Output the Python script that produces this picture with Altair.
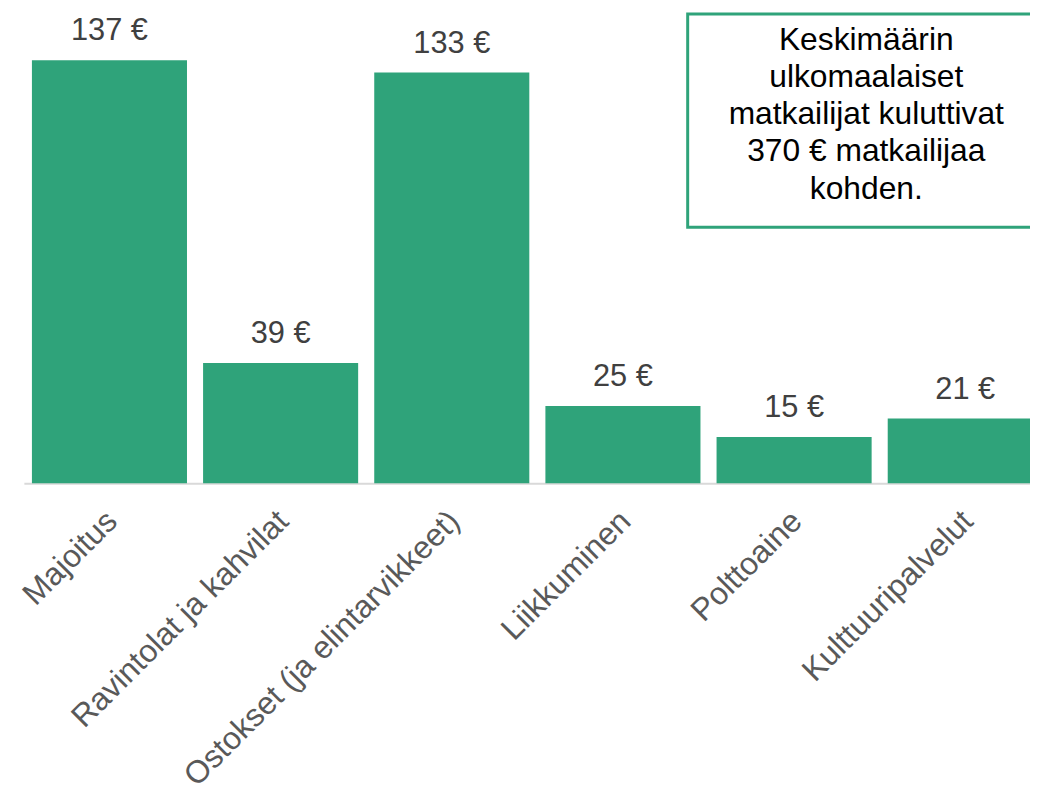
import altair as alt
import pandas as pd

categories = ["Majoitus", "Ravintolat ja kahvilat", "Ostokset (ja elintarvikkeet)",
              "Liikkuminen", "Polttoaine", "Kulttuuripalvelut"]
values = [137, 39, 133, 25, 15, 21]
value_labels = ["137 €", "39 €", "133 €", "25 €", "15 €", "21 €"]
box_lines = ["Keskimäärin", "ulkomaalaiset", "matkailijat kuluttivat",
             "370 € matkailijaa", "kohden."]

GREEN = "#2fa37a"
FONT = "Liberation Sans"

df = pd.DataFrame({"cat": categories, "val": values, "lab": value_labels})

x = alt.X("cat:N", sort=categories, title=None,
          scale=alt.Scale(paddingInner=0.094, paddingOuter=0.047),
          axis=alt.Axis(labelAngle=-45, labelFontSize=32, labelColor="#595959",
                        labelFont=FONT, ticks=False, domainColor="#d9d9d9",
                        domainWidth=2, labelPadding=22, labelOffset=-8,
                        labelLimit=700))
y = alt.Y("val:Q", scale=alt.Scale(domain=[0, 151], nice=False), axis=None)

bars = alt.Chart(df).mark_bar(color=GREEN).encode(x=x, y=y)
labels = alt.Chart(df).mark_text(font=FONT, fontSize=31, color="#404040",
                                 baseline="alphabetic", dy=-20).encode(
    x=alt.X("cat:N", sort=categories), y=alt.Y("val:Q"), text="lab:N")

box = alt.Chart(pd.DataFrame({"a": [0]})).mark_rect(
    fill="white", stroke=GREEN, strokeWidth=3).encode(
    x=alt.value(669), x2=alt.value(1040), y=alt.value(-3), y2=alt.value(212))

box_text = alt.Chart(pd.DataFrame({"t": ["\n".join(box_lines)]})).mark_text(
    font=FONT, fontSize=32, color="#000000", lineBreak="\n", lineHeight=37.5,
    align="center", baseline="middle").encode(
    x=alt.value(849), y=alt.value(23), text="t:N")

chart = alt.layer(bars, labels, box, box_text).properties(
    width=1035, height=470,
    padding={"left": 16, "top": 6, "right": -21, "bottom": 303},
    autosize=alt.AutoSizeParams(type="none"),
).configure_view(stroke=None).configure_axis(grid=False)

chart.save("out.html", embed_options={"renderer": "svg", "actions": False})
